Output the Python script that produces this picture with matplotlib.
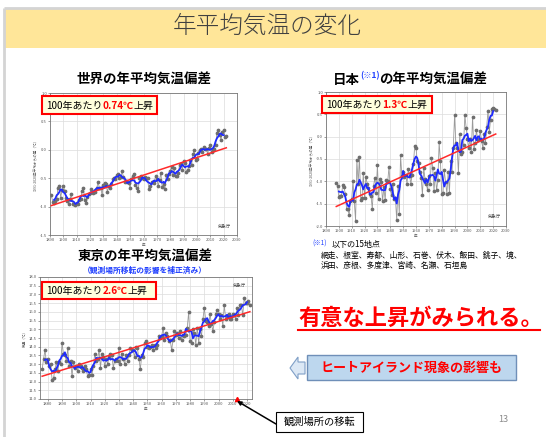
import numpy as np
import matplotlib
matplotlib.use('Agg')
import matplotlib.pyplot as plt
from matplotlib.patches import Rectangle, Polygon

plt.rcParams['font.family'] = ['Noto Sans CJK JP', 'DejaVu Sans']

# ---------------- data ----------------
world_start = 1891
world_vals = [
    -0.79, -0.92, -0.94, -0.90, -0.86, -0.67, -0.63, -0.84, -0.71, -0.63,
    -0.72, -0.84, -0.91, -0.96, -0.86, -0.78, -0.96, -0.95, -0.97, -0.94,
    -0.95, -0.89, -0.87, -0.72, -0.67, -0.88, -0.93, -0.83, -0.78, -0.76,
    -0.69, -0.76, -0.74, -0.75, -0.67, -0.57, -0.67, -0.68, -0.79, -0.62,
    -0.58, -0.61, -0.74, -0.63, -0.67, -0.61, -0.52, -0.49, -0.52, -0.45,
    -0.42, -0.49, -0.48, -0.38, -0.48, -0.57, -0.55, -0.56, -0.58, -0.67,
    -0.51, -0.47, -0.42, -0.62, -0.67, -0.72, -0.50, -0.46, -0.50, -0.52,
    -0.48, -0.50, -0.50, -0.69, -0.64, -0.56, -0.57, -0.59, -0.46, -0.52,
    -0.63, -0.53, -0.41, -0.66, -0.61, -0.69, -0.45, -0.51, -0.43, -0.37,
    -0.31, -0.45, -0.32, -0.47, -0.47, -0.40, -0.27, -0.25, -0.35, -0.20,
    -0.24, -0.39, -0.36, -0.28, -0.18, -0.27, -0.08, 0.00, -0.18, -0.16,
    -0.05, 0.00, 0.01, -0.03, 0.05, 0.01, 0.02, -0.07, 0.03, 0.08,
    -0.04, -0.01, 0.02, 0.09, 0.30, 0.35, 0.26, 0.18, 0.31, 0.34,
    0.22, 0.24]

japan_start = 1898
japan_vals = [
    -1.03, -1.10, -1.35, -1.33, -1.33, -1.08, -1.12, -1.28, -1.62, -1.63,
    -1.75, -1.45, -1.40, -1.00, -1.45, -1.88, -0.52, -1.05, -0.45, -1.42,
    -1.38, -0.82, -1.38, -0.90, -1.05, -1.15, -1.28, -1.32, -1.62, -1.10,
    -0.92, -1.25, -0.63, -1.40, -0.95, -1.02, -1.45, -1.13, -1.42, -0.98,
    -1.00, -0.68, -1.18, -1.30, -1.05, -1.40, -1.38, -1.87, -1.10, -1.73,
    -0.42, -0.88, -0.78, -0.90, -0.85, -1.05, -0.72, -0.88, -1.05, -0.85,
    -0.62, -0.20, -0.25, -0.55, -0.60, -0.80, -0.92, -1.30, -0.70, -0.95,
    -1.05, -1.20, -0.88, -1.05, -0.48, -0.70, -1.22, -0.82, -1.20, -0.98,
    -0.12, -0.55, -1.28, -1.25, -0.75, -1.02, -1.28, -0.80, -1.25, -0.55,
    -0.80, -0.25, 0.48, -0.15, -0.25, -0.82, 0.05, -0.38, -0.35, -0.18,
    0.48, 0.20, -0.05, -0.25, -0.05, -0.35, 0.45, -0.28, -0.15, 0.15,
    -0.08, -0.05, 0.12, -0.10, -0.25, 0.05, -0.15, 0.22, 0.58, 0.10,
    0.38, 0.62, 0.65, 0.61, 0.60]

tokyo_start = 1876
tokyo_vals = [
    12.7, 13.3, 13.8, 13.1, 13.3, 12.9, 13.0, 12.1, 12.2, 12.7,
    13.1, 12.6, 13.1, 13.0, 14.2, 13.6, 13.5, 13.2, 13.9, 12.9,
    13.2, 12.3, 13.1, 12.8, 12.9, 12.6, 13.0, 12.9, 12.8, 12.6,
    12.9, 12.7, 12.3, 12.4, 12.7, 12.4, 12.9, 13.6, 13.2, 13.3,
    13.8, 12.8, 13.6, 13.4, 12.9, 13.3, 13.0, 13.4, 13.6, 13.5,
    12.8, 13.2, 13.3, 13.2, 13.9, 13.0, 13.6, 13.3, 13.0, 13.5,
    13.2, 13.5, 13.9, 13.8, 13.8, 13.4, 14.0, 13.9, 13.3, 12.7,
    13.5, 13.4, 14.2, 14.3, 14.0, 13.9, 14.0, 14.1, 13.8, 14.1,
    13.9, 14.1, 14.6, 14.5, 14.6, 15.1, 14.4, 14.8, 14.6, 14.3,
    14.4, 13.8, 14.4, 14.9, 14.7, 14.8, 14.5, 14.9, 14.4, 14.7,
    14.6, 14.7, 15.1, 16.0, 14.3, 14.2, 15.0, 14.8, 14.1, 15.1,
    14.2, 15.0, 14.6, 15.6, 16.2, 15.5, 15.4, 15.2, 15.9, 15.3,
    14.9, 15.4, 15.9, 16.1, 15.9, 15.6, 15.8, 15.2, 16.4, 15.6,
    15.7, 15.9, 15.6, 15.6, 15.9, 15.8, 15.6, 16.2, 15.8, 16.4,
    16.4, 15.8, 16.8, 16.5, 16.5, 16.6, 16.4]
tokyo_move_year = 2013

world_ticks_x = list(range(1890, 2031, 10))
world_ticks_y = [-1.5, -1.0, -0.5, 0.0, 0.5, 1.0]
japan_ticks_x = list(range(1890, 2031, 10))
japan_ticks_y = [-2.0, -1.5, -1.0, -0.5, 0.0, 0.5, 1.0]
tokyo_ticks_x = list(range(1880, 2021, 10))
tokyo_ticks_y = [11.0 + 0.5 * i for i in range(15)]

# ---------------- figure ----------------
W, H = 546, 437
fig = plt.figure(figsize=(W / 100, H / 100), dpi=100)
fig.patch.set_facecolor('white')


def rect(l, t, r, b):
    return [l / W, 1 - b / H, (r - l) / W, (b - t) / H]


GRAY_PT = '#6e6e6e'


def chart(rpx, start, vals, xlim, xt, ylim, yt, ylabel, src_pos):
    years = np.arange(start, start + len(vals))
    v = np.array(vals)
    ax = fig.add_axes(rect(*rpx), zorder=2)
    ax.set_facecolor('white')
    ax.plot(years, v, color='#9a9a9a', lw=0.6, marker='o', ms=1.7,
            mfc=GRAY_PT, mec=GRAY_PT, zorder=2)
    rm = np.convolve(v, np.ones(5) / 5, mode='valid')
    ax.plot(years[2:-2], rm, color='#1f2bff', lw=1.3, zorder=3)
    p = np.polyfit(years, v, 1)
    ends = np.array([years[0], years[-1]])
    ax.plot(ends, np.polyval(p, ends), color='#ff2a2a', lw=1.1, zorder=4)
    ax.set_xlim(*xlim)
    ax.set_ylim(*ylim)
    ax.set_xticks(xt)
    ax.set_yticks(yt)
    ax.set_yticklabels([f'{t:.1f}' for t in yt])
    ax.tick_params(labelsize=3, colors='#555555', length=1.2, width=0.4, pad=1)
    ax.grid(True, color='#dcdcdc', lw=0.5)
    ax.set_axisbelow(True)
    for s in ax.spines.values():
        s.set_color('#777777')
        s.set_linewidth(0.6)
    ax.set_ylabel(ylabel, fontsize=2.6, color='#555555', labelpad=2)
    ax.set_xlabel('年', fontsize=2.6, color='#555555', labelpad=1)
    ax.text(src_pos[0], src_pos[1], '気象庁', transform=ax.transAxes,
            fontsize=3.2, color='#444444', ha='right', va='center')
    return ax, years


chart((50, 93, 237, 235), world_start, world_vals, (1890, 2030), world_ticks_x,
      (-1.5, 1.0), world_ticks_y, '1991-2020年平均からの差（℃）', (0.97, 0.06))
chart((326, 92, 506, 226), japan_start, japan_vals, (1890, 2030), japan_ticks_x,
      (-2.0, 1.0), japan_ticks_y, '1991-2020年平均からの差（℃）', (0.97, 0.07))
axT, _ = chart((40, 277, 252, 399), tokyo_start, tokyo_vals, (1874.5, 2023.5),
               tokyo_ticks_x, (11.0, 18.0), tokyo_ticks_y, '気温（℃）', (0.97, 0.93))
axT.plot([tokyo_move_year], [11.0], marker='^', color='#ff0000', ms=3,
         clip_on=False, zorder=6)

# ---------------- overlay (pixel coordinates) ----------------
ov = fig.add_axes([0, 0, 1, 1], zorder=10)
ov.set_xlim(0, W)
ov.set_ylim(H, 0)
ov.axis('off')
ov.patch.set_alpha(0)

# slide frame and title band
ov.plot([4, 4], [8, H], color='#d4d4d4', lw=2, solid_capstyle='butt')
ov.plot([4, W], [8, 8], color='#d4d4d4', lw=2, solid_capstyle='butt')
ov.add_patch(Rectangle((5, 9), W - 5, 39, facecolor='#FFE699', edgecolor='none'))
ov.text(267, 26, '年平均気温の変化', fontsize=17, color='#404040',
        ha='center', va='center', fontweight='light')


def rich(x, y, parts, fs):
    s, c, w, sz, dy = parts[0]
    first = ov.text(x, y, s, color=c, fontweight=w, fontsize=sz or fs,
                    ha='left', va='center')
    prev = first
    for s, c, w, sz, dy in parts[1:]:
        prev = ov.annotate(s, xy=(1, dy), xycoords=(prev, first), xytext=(0, 0),
                           textcoords='offset points', color=c, fontweight=w,
                           fontsize=sz or fs, ha='left', va='bottom')
    return prev


# chart titles
ov.text(144, 80, '世界の年平均気温偏差', fontsize=9.7, fontweight='bold',
        ha='center', va='center', color='black')
rich(333, 80, [('日本', 'black', 'bold', None, 0),
               ('(※1)', '#1f3fff', 'bold', 6, 0.45),
               ('の年平均気温偏差', 'black', 'bold', None, 0)], 9.7)
ov.text(145, 257, '東京の年平均気温偏差', fontsize=9.7, fontweight='bold',
        ha='center', va='center', color='black')
ov.text(145, 270, '（観測場所移転の影響を補正済み）', fontsize=5.6,
        fontweight='bold', ha='center', va='center', color='#1f3fff')

# trend boxes
for (l, t, r, b, val) in [(42, 96, 157, 114, '0.74'), (322, 96, 432, 113, '1.3'),
                          (42, 282, 156, 299, '2.6')]:
    ov.add_patch(Rectangle((l, t), r - l, b - t, facecolor='#FFFFDD',
                           edgecolor='#ff0000', lw=1.5))
    rich(l + 4, (t + b) / 2 + 0.5, [('100年あたり', 'black', 'normal', None, 0),
                                   (val + '℃', '#ff0000', 'bold', None, 0),
                                   ('上昇', 'black', 'normal', None, 0)], 7.2)

# footnote
ov.text(312, 244, '(※1)', fontsize=4.6, color='#1f3fff', ha='left', va='center')
ov.text(332, 244, '以下の15地点', fontsize=5.8, color='black', ha='left', va='center')
ov.text(321, 256, '網走、根室、寿都、山形、石巻、伏木、飯田、銚子、境、',
        fontsize=5.6, color='black', ha='left', va='center')
ov.text(321, 266, '浜田、彦根、多度津、宮崎、名瀬、石垣島',
        fontsize=5.6, color='black', ha='left', va='center')

# key message
ov.text(298, 318, '有意な上昇がみられる。', fontsize=16.0, fontweight='bold',
        color='#ff0000', ha='left', va='center')
ov.plot([298, 540], [330, 330], color='#ff0000', lw=1.5)

# heat island box and block arrow
ov.add_patch(Rectangle((307, 355), 209, 25, facecolor='#BDD7EE',
                       edgecolor='#6f8fb8', lw=1.0))
ov.text(411, 368, 'ヒートアイランド現象の影響も', fontsize=9.4, fontweight='bold',
        color='#ff0000', ha='center', va='center')
ov.add_patch(Polygon([(290, 368), (298, 357), (298, 362), (305, 362), (305, 374),
                      (298, 374), (298, 379)], closed=True,
                     facecolor='#DCE8F5', edgecolor='#7f9fc7', lw=0.8))

# relocation callout
ov.add_patch(Rectangle((276, 412), 87, 20, facecolor='white', edgecolor='black', lw=0.8))
ov.text(319.5, 422, '観測場所の移転', fontsize=7.4, color='black',
        ha='center', va='center')
ov.annotate('', xy=(237, 401), xytext=(276, 424),
            arrowprops=dict(arrowstyle='-|>', color='black', lw=1.1,
                            mutation_scale=6, shrinkA=0, shrinkB=0))

# page number
ov.text(503, 419, '13', fontsize=6.5, color='#8a8a8a', ha='center', va='center')

fig.savefig('out.png', dpi=100)
